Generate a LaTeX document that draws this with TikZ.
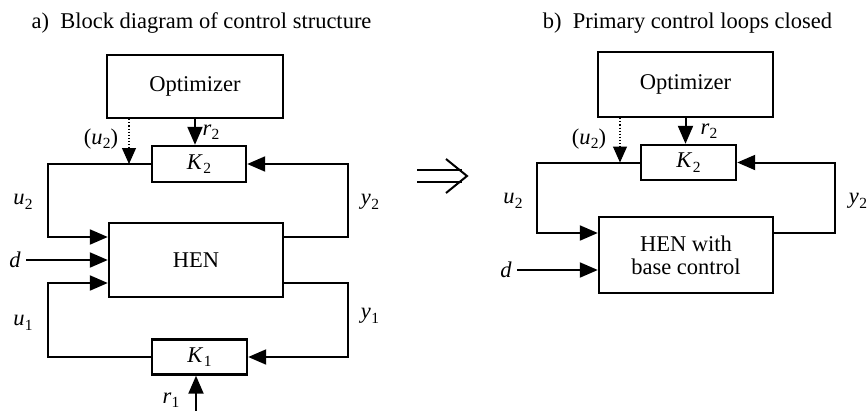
\documentclass[tikz,border=0pt]{standalone}
\usepackage{fontspec}
\setmainfont{Liberation Serif}
\usetikzlibrary{arrows.meta}
\newcommand{\sv}[2]{\textit{#1}\kern0.3pt\raisebox{-4.5pt}{\fontsize{15.5}{15.5}\selectfont #2}}
\begin{document}
\begin{tikzpicture}[x=1pt,y=-1pt,line width=2pt,
  font=\fontsize{22.5}{26}\selectfont,
  blk/.style={draw,line width=2.4pt,inner sep=0pt,align=center},
  arr/.style={-{Triangle[length=18pt,width=15pt]}},
  dotarr/.style={dotted,line width=1.1pt,-{Triangle[length=16pt,width=14pt]}},
  lab/.style={inner sep=0pt}]
\useasboundingbox (0,0) rectangle (868,410);

% ---------- titles ----------
\node[anchor=base] (ta) at (201.5,28) {a)\enspace Block diagram of control structure};
\node[anchor=base] (tb) at (687.5,28) {b)\enspace Primary control loops closed};

% implication arrow
\coordinate (im) at (417,176);
\draw[line width=2pt] (im) ++(0,-6) -- ++(45,0);
\draw[line width=2pt] (im) ++(0,6) -- ++(45,0);
\draw[line width=2pt,line join=miter] (im) ++(29,-17) -- ++(21,17) -- ++(-21,17);

% ---------- left diagram ----------
\node[blk,minimum width=176pt,minimum height=63pt] (opt) at (195,86.5) {Optimizer};
\node[blk,minimum width=94pt,minimum height=36pt] (K2) at (199,164) {\sv{K}{2}};
\node[blk,minimum width=174pt,minimum height=74pt] (HEN) at (196,260) {HEN};
\node[blk,minimum width=95pt,minimum height=35pt] (K1) at (199.5,357) {\sv{K}{1}};

\coordinate (lft) at (48,0);
\coordinate (rgt) at (348,0);
\coordinate (dl) at (129,164);
\coordinate (ds) at (26,260);
\coordinate (r1s) at (196,412);

\draw[arr] (opt.south) -- (opt.south |- K2.north);
\draw[dotarr] (dl |- opt.south) -- (dl);
\draw[arr] (K2.west) -- (K2.west -| lft) |- ([yshift=23pt]HEN.west);
\draw[arr] (ds) -- (ds -| HEN.west);
\draw[arr] (K1.west) -- (K1.west -| lft) |- ([yshift=-23pt]HEN.west);
\draw[arr] ([yshift=23pt]HEN.east) -| (rgt |- K2.east) -- (K2.east);
\draw[arr] ([yshift=-23pt]HEN.east) -| (rgt |- K1.east) -- (K1.east);
\draw[arr] (r1s) -- (r1s |- K1.south);

\node[lab] (lr2) at (211,132) {\sv{r}{2}};
\node[lab] (lu2p) at (101,139) {(\textit{u}\kern0.3pt\raisebox{-4.5pt}{\fontsize{15.5}{15.5}\selectfont 2})};
\node[lab] (lu2) at (23,202) {\sv{u}{2}};
\node[lab] (ly2) at (370,202) {\sv{y}{2}};
\node[lab] (ld) at (15,260) {\textit{d}};
\node[lab] (lu1) at (23,323) {\sv{u}{1}};
\node[lab] (ly1) at (370,316) {\sv{y}{1}};
\node[lab] (lr1) at (171,400) {\sv{r}{1}};

% ---------- right diagram ----------
\node[blk,minimum width=175pt,minimum height=65pt] (opt2) at (685.5,84.5) {Optimizer};
\node[blk,minimum width=95pt,minimum height=35pt] (K2b) at (688.5,162.5) {\sv{K}{2}};
\node[blk,minimum width=174pt,minimum height=76pt] (HEN2) at (686,255) {HEN with\\[-3pt]base control};

\coordinate (lft2) at (537,0);
\coordinate (rgt2) at (835,0);
\coordinate (dl2) at (620,162.5);
\coordinate (ds2) at (517,270);

\draw[arr] (opt2.south) -- (opt2.south |- K2b.north);
\draw[dotarr] (dl2 |- opt2.south) -- (dl2);
\draw[arr] (K2b.west) -- (K2b.west -| lft2) |- ([yshift=22pt]HEN2.west);
\draw[arr] (ds2) -- (ds2 -| HEN2.west);
\draw[arr] ([yshift=22pt]HEN2.east) -| (rgt2 |- K2b.east) -- (K2b.east);

\node[lab] (rr2) at (709,131) {\sv{r}{2}};
\node[lab] (ru2p) at (589,139) {(\textit{u}\kern0.3pt\raisebox{-4.5pt}{\fontsize{15.5}{15.5}\selectfont 2})};
\node[lab] (ru2) at (513,201) {\sv{u}{2}};
\node[lab] (ry2) at (858,201) {\sv{y}{2}};
\node[lab] (rd) at (506,270) {\textit{d}};
\end{tikzpicture}
\end{document}
